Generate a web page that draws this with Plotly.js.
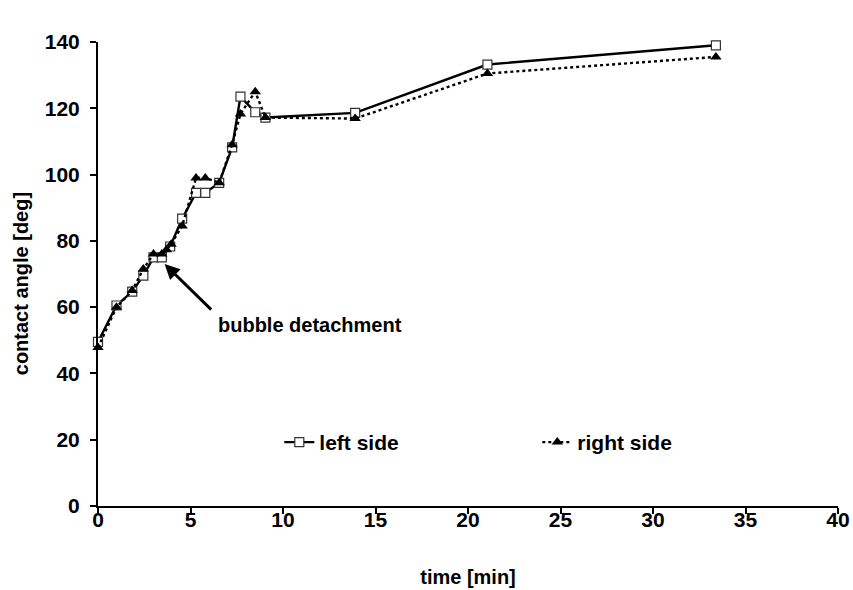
<!DOCTYPE html>
<html>
<head>
<meta charset="utf-8">
<script src="https://cdn.plot.ly/plotly-3.0.1.min.js"></script>
<style>html,body{margin:0;padding:0;background:#fff;}#chart{width:853px;height:590px;}</style>
</head>
<body>
<div id="chart"></div>
<script>
// time [min] and contact angle [deg]
const leftTime  = [0, 1, 1.85, 2.45, 3.0, 3.45, 3.9, 4.55, 5.3, 5.8, 6.55, 7.25, 7.7, 8.5, 9.05, 13.9, 21.05, 33.4];
const leftAngle = [49.5, 60.5, 64.7, 69.5, 75, 75, 78.3, 86.7, 94.5, 94.5, 97.5, 108.2, 123.5, 118.8, 117.2, 118.6, 133.2, 139];
const rightTime  = [0, 1, 1.85, 2.45, 3.0, 3.45, 3.7, 3.95, 4.55, 5.3, 5.8, 6.55, 7.25, 7.7, 8.5, 9.05, 13.9, 21.05, 33.4];
const rightAngle = [47.8, 60, 65, 71.5, 76, 76, 77.3, 79, 84.5, 99, 99, 97.5, 109, 118.3, 125, 117.2, 116.9, 130.5, 135.5];
const seriesNames = ['left side', 'right side'];
const xTicks = [0, 5, 10, 15, 20, 25, 30, 35, 40];
const yTicks = [0, 20, 40, 60, 80, 100, 120, 140];
const xTitle = 'time [min]';
const yTitle = 'contact angle [deg]';
const noteText = 'bubble detachment';

const FONT = '"Liberation Sans", Arial, sans-serif';

const traces = [
  {
    x: leftTime, y: leftAngle, name: seriesNames[0], type: 'scatter', mode: 'lines+markers',
    line: {color: '#000', width: 2.4},
    marker: {symbol: 'square', size: 9, color: '#fff', line: {color: '#333', width: 1.2}},
    cliponaxis: false
  },
  {
    x: rightTime, y: rightAngle, name: seriesNames[1], type: 'scatter', mode: 'lines+markers',
    line: {color: '#000', width: 2.4, dash: 'dot'},
    marker: {symbol: 'triangle-up', size: 10, color: '#000'},
    cliponaxis: false
  }
];

const axisCommon = {
  showline: true, linecolor: '#000', linewidth: 2,
  ticks: 'outside', ticklen: 6, tickwidth: 2, tickcolor: '#000',
  showgrid: false, zeroline: false,
  tickfont: {family: FONT, size: 21, color: '#000', weight: 'bold'},
  fixedrange: true
};

const layout = {
  width: 853, height: 590,
  margin: {l: 98, r: 15, t: 42, b: 84},
  paper_bgcolor: '#fff', plot_bgcolor: '#fff',
  font: {family: FONT, color: '#000'},
  xaxis: Object.assign({}, axisCommon, {
    range: [0, 40], tickvals: xTicks, ticktext: xTicks.map(String), ticklabelstandoff: -12,
    title: {text: '<b>' + xTitle + '</b>', font: {family: FONT, size: 20, color: '#000'}, standoff: 40}
  }),
  yaxis: Object.assign({}, axisCommon, {
    range: [0, 140], tickvals: yTicks, ticktext: yTicks.map(String), ticklabelstandoff: 6,
    title: {text: ''}
  }),
  showlegend: true,
  legend: {
    orientation: 'h', x: 0.245, xanchor: 'left', y: 0.137, yanchor: 'middle',
    font: {family: FONT, size: 21, color: '#000', weight: 'bold'},
    bgcolor: 'rgba(0,0,0,0)', entrywidth: 213, itemwidth: 30
  },
  annotations: [
    {
      x: 3.6, y: 73, xref: 'x', yref: 'y', ax: 6.2, ay: 58.8, axref: 'x', ayref: 'y',
      text: '', showarrow: true, arrowhead: 2, arrowsize: 1, arrowwidth: 3, arrowcolor: '#000'
    },
    {
      x: 6.4, y: 54.7, xref: 'x', yref: 'y', xanchor: 'left', yanchor: 'middle',
      text: '<b>' + noteText + '</b>', showarrow: false,
      font: {family: FONT, size: 20, color: '#000'}
    },
    {
      x: -0.104, y: 0.478, xref: 'paper', yref: 'paper', xanchor: 'center', yanchor: 'middle',
      textangle: -90, text: '<b>' + yTitle + '</b>', showarrow: false,
      font: {family: FONT, size: 20, color: '#000'}
    }
  ]
};

Plotly.newPlot('chart', traces, layout, {displayModeBar: false, staticPlot: true});
</script>
</body>
</html>
